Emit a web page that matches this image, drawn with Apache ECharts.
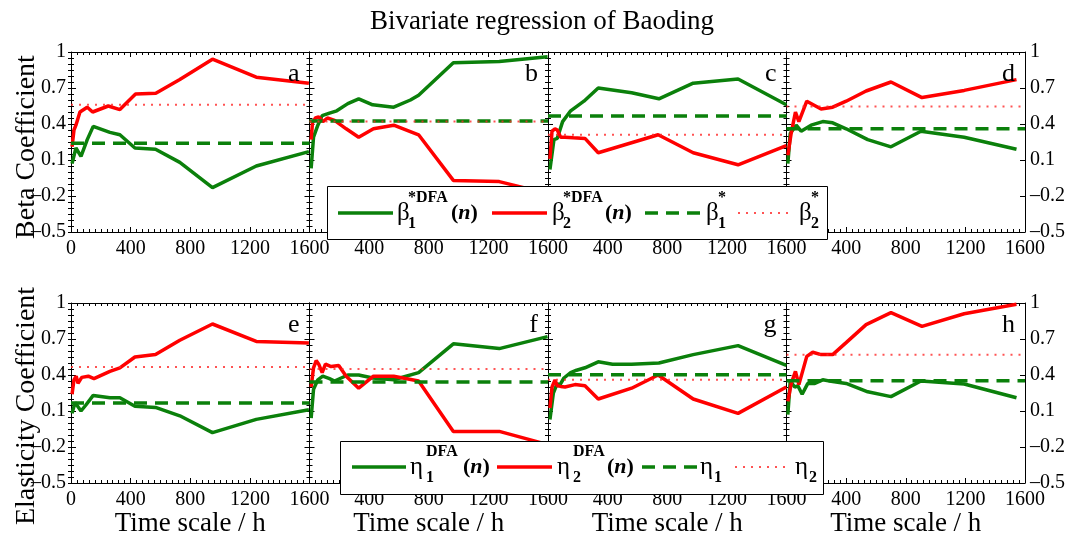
<!DOCTYPE html>
<html><head><meta charset="utf-8">
<script src="https://cdn.jsdelivr.net/npm/echarts@6/dist/echarts.min.js"></script>
<style>html,body{margin:0;padding:0;background:#fff}#c{width:1084px;height:540px}</style>
</head><body><div id="c"></div>
<script>
// ---------- data (time scale n in hours, coefficient values) ----------
const xTicks = [0, 400, 800, 1200, 1600];
const yTicks = [-0.5, -0.2, 0.1, 0.4, 0.7, 1];
const panelLetters = ['a','b','c','d','e','f','g','h'];

// a: beta*DFA
const aGx = [7, 33, 67, 109, 149, 261, 328, 429, 567, 730, 949, 1243, 1596];
const aGy = [0.07, 0.2, 0.13, 0.27, 0.38, 0.33, 0.31, 0.2, 0.19, 0.08, -0.13, 0.05, 0.17];
const aRx = [7, 20, 33, 60, 109, 145, 250, 328, 433, 569, 730, 949, 1243, 1596];
const aRy = [0.21, 0.35, 0.39, 0.5, 0.54, 0.5, 0.55, 0.52, 0.65, 0.656, 0.77, 0.94, 0.79, 0.74];
const aRef = [0.24, 0.56];
// b
const bGx = [11, 27, 56, 85, 134, 183, 257, 330, 424, 565, 677, 732, 965, 1273, 1597];
const bGy = [0.03, 0.29, 0.39, 0.47, 0.49, 0.51, 0.57, 0.61, 0.56, 0.54, 0.6, 0.64, 0.91, 0.92, 0.96];
const bRx = [11, 20, 40, 62, 90, 120, 168, 246, 330, 429, 565, 732, 965, 1273, 1600];
const bRy = [0.27, 0.41, 0.45, 0.46, 0.42, 0.45, 0.43, 0.36, 0.29, 0.36, 0.39, 0.31, -0.07, -0.08, -0.18];
const bRef = [0.425, 0.42];
// c
const cGx = [13, 40, 62, 80, 98, 152, 241, 337, 561, 744, 974, 1275, 1599];
const cGy = [0.02, 0.27, 0.28, 0.35, 0.42, 0.51, 0.59, 0.7, 0.66, 0.61, 0.74, 0.775, 0.56];
const cRx = [13, 27, 47, 62, 85, 114, 170, 248, 337, 739, 974, 1275, 1599];
const cRy = [0.11, 0.34, 0.36, 0.35, 0.29, 0.29, 0.285, 0.28, 0.16, 0.31, 0.16, 0.06, 0.22];
const cRef = [0.467, 0.31];
// d
const dGx = [9, 25, 65, 98, 165, 243, 310, 400, 545, 701, 902, 1192, 1543];
const dGy = [0.07, 0.32, 0.39, 0.34, 0.39, 0.42, 0.41, 0.36, 0.27, 0.21, 0.34, 0.29, 0.19];
const dRx = [9, 31, 60, 83, 136, 232, 310, 400, 534, 701, 909, 1192, 1543];
const dRy = [0.14, 0.32, 0.5, 0.42, 0.59, 0.525, 0.54, 0.59, 0.675, 0.75, 0.62, 0.68, 0.77];
const dRef = [0.36, 0.545];
// e: eta DFA
const eGx = [7, 27, 40, 67, 100, 149, 261, 328, 429, 567, 730, 949, 1243, 1596];
const eGy = [0.08, 0.17, 0.16, 0.1, 0.15, 0.23, 0.21, 0.21, 0.14, 0.13, 0.06, -0.08, 0.03, 0.11];
const eRx = [7, 20, 35, 47, 72, 116, 154, 261, 328, 429, 567, 730, 949, 1243, 1596];
const eRy = [0.24, 0.36, 0.39, 0.33, 0.38, 0.39, 0.37, 0.43, 0.46, 0.55, 0.57, 0.69, 0.825, 0.68, 0.667];
const eRef = [0.167, 0.467];
// f
const fGx = [11, 27, 56, 89, 134, 168, 257, 330, 424, 565, 732, 965, 1273, 1597];
const fGy = [0.04, 0.28, 0.36, 0.39, 0.37, 0.35, 0.4, 0.4, 0.375, 0.36, 0.42, 0.66, 0.62, 0.72];
const fRx = [11, 27, 45, 62, 85, 107, 145, 196, 246, 330, 429, 565, 732, 965, 1273, 1600];
const fRy = [0.3, 0.46, 0.52, 0.49, 0.42, 0.49, 0.47, 0.48, 0.39, 0.29, 0.39, 0.39, 0.35, -0.07, -0.07, -0.18];
const fRef = [0.342, 0.45];
// g
const gGx = [13, 36, 62, 76, 107, 152, 192, 248, 337, 433, 561, 744, 974, 1275, 1599];
const gGy = [0.03, 0.25, 0.33, 0.31, 0.375, 0.42, 0.44, 0.46, 0.51, 0.49, 0.49, 0.5, 0.57, 0.645, 0.48];
const gRx = [13, 27, 47, 62, 85, 114, 181, 248, 337, 561, 739, 974, 1275, 1599];
const gRy = [0.125, 0.3, 0.36, 0.31, 0.305, 0.3, 0.32, 0.31, 0.2, 0.29, 0.4, 0.2, 0.08, 0.3];
const gRef = [0.403, 0.361];
// h
const hGx = [9, 25, 55, 76, 105, 143, 190, 243, 310, 400, 545, 701, 902, 1192, 1543];
const hGy = [0.07, 0.35, 0.3, 0.31, 0.24, 0.33, 0.33, 0.36, 0.345, 0.33, 0.26, 0.22, 0.35, 0.325, 0.21];
const hRx = [9, 32, 60, 83, 136, 176, 232, 310, 400, 534, 701, 909, 1192, 1543];
const hRy = [0.18, 0.33, 0.43, 0.32, 0.555, 0.59, 0.57, 0.57, 0.67, 0.82, 0.92, 0.805, 0.91, 0.99];
const hRef = [0.353, 0.569];

const panels = [
  [aGx,aGy,aRx,aRy,aRef],[bGx,bGy,bRx,bRy,bRef],[cGx,cGy,cRx,cRy,cRef],[dGx,dGy,dRx,dRy,dRef],
  [eGx,eGy,eRx,eRy,eRef],[fGx,fGy,fRx,fRy,fRef],[gGx,gGy,gRx,gRy,gRef],[hGx,hGy,hRx,hRy,hRef]
];

// ---------- style ----------
const FONT = "'Liberation Serif', 'DejaVu Serif', serif";
const GREEN = '#0b800b', RED = '#ff0000', RED_DOT = 'rgba(255,40,40,0.8)';
const LEFT0 = 71, PW = 238.5, TOPS = [52, 303], PH = 180;
const XMIN = 0, XMAX = 1600, YMIN = -0.5, YMAX = 1;
const yMinor = []; for (let k = 0; k <= 30; k++) yMinor.push(+(YMIN + k * 0.05).toFixed(2));
const fmtY = v => { const s = String(+v.toFixed(2)); return s.replace('-', '\u2013'); };
const fmtX = v => String(Math.round(v));

const grid = [], xAxis = [], yAxis = [], series = [], graphic = [];
const pairs = (xs, ys) => xs.map((x, k) => [x, ys[k]]);

panels.forEach((p, i) => {
  const r = Math.floor(i / 4), c = i % 4;
  const left = LEFT0 + c * PW, top = TOPS[r];
  grid.push({ left: left, top: top, width: PW, height: PH, containLabel: false });
  const axLine = { show: true, onZero: false, lineStyle: { color: '#000', width: 1 } };
  const lbl = { fontSize: 20, color: '#000', fontFamily: FONT };
  xAxis.push({
    type: 'value', gridIndex: i, position: 'bottom', min: XMIN, max: XMAX, interval: 400,
    axisLine: axLine, splitLine: { show: false },
    axisTick: { show: true, inside: true, length: 5, lineStyle: { color: '#000' } },
    minorTick: { show: true, splitNumber: 10, length: 3, lineStyle: { color: '#000' } },
    axisLabel: Object.assign({ show: true, margin: 7, showMinLabel: c === 0, showMaxLabel: true, formatter: fmtX }, lbl),
    name: r === 1 ? 'Time scale / h' : '', nameLocation: 'middle', nameGap: 27,
    nameTextStyle: { fontSize: 27, color: '#000', fontFamily: FONT }
  });
  xAxis.push({
    type: 'value', gridIndex: i, position: 'top', min: XMIN, max: XMAX, interval: 400,
    axisLine: axLine, splitLine: { show: false }, axisLabel: { show: false },
    axisTick: { show: true, inside: true, length: 5, lineStyle: { color: '#000' } },
    minorTick: { show: true, splitNumber: 10, length: 3, lineStyle: { color: '#000' } }
  });
  ['left', 'right'].forEach(pos => {
    const showLbl = (pos === 'left' && c === 0) || (pos === 'right' && c === 3);
    yAxis.push({
      type: 'value', gridIndex: i, position: pos, min: YMIN, max: YMAX,
      axisLine: axLine, splitLine: { show: false },
      axisTick: { show: true, inside: true, length: 5, customValues: yTicks, lineStyle: { color: '#000' } },
      axisLabel: Object.assign({ show: showLbl, margin: 5, customValues: yTicks, formatter: fmtY }, lbl)
    });
    yAxis.push({
      type: 'value', gridIndex: i, position: pos, min: YMIN, max: YMAX,
      axisLine: { show: false }, splitLine: { show: false }, axisLabel: { show: false },
      axisTick: { show: true, inside: true, length: 3, customValues: yMinor, lineStyle: { color: '#000' } }
    });
  });
  const base = { type: 'line', xAxisIndex: i * 2, yAxisIndex: i * 4, symbol: 'none', showSymbol: false, silent: true, animation: false };
  series.push(Object.assign({}, base, { name: 'green' + i, data: pairs(p[0], p[1]), lineStyle: { color: GREEN, width: 3.5 }, itemStyle: { color: GREEN } }));
  series.push(Object.assign({}, base, { name: 'red' + i, data: pairs(p[2], p[3]), lineStyle: { color: RED, width: 3.5 }, itemStyle: { color: RED } }));
  series.push(Object.assign({}, base, { name: 'gref' + i, data: [[XMIN, p[4][0]], [XMAX, p[4][0]]], lineStyle: { color: GREEN, width: 3.5, type: [13, 8] }, itemStyle: { color: GREEN } }));
  series.push(Object.assign({}, base, { name: 'rref' + i, data: [[XMIN, p[4][1]], [XMAX, p[4][1]]], lineStyle: { color: RED_DOT, width: 2, type: [2, 6] }, itemStyle: { color: RED } }));
  // panel letter
  graphic.push({ type: 'text', x: left + PW - 10, y: top + 22, z: 50,
    style: { text: panelLetters[i], font: '26px ' + FONT, fill: '#000', align: 'right', verticalAlign: 'middle' } });
});

// y-axis names
graphic.push({ type: 'text', x: 27, y: 147, rotation: Math.PI / 2, z: 50,
  style: { text: 'Beta Coefficient', font: '28px ' + FONT, fill: '#000', align: 'center', verticalAlign: 'middle' } });
graphic.push({ type: 'text', x: 27, y: 406, rotation: Math.PI / 2, z: 50,
  style: { text: 'Elasticity Coefficient', font: '28px ' + FONT, fill: '#000', align: 'center', verticalAlign: 'middle' } });

// legends
function t(x, y, text, size, weight, style) {
  return { type: 'text', x: x, y: y, z: 101,
    style: { text: text, font: (style || '') + ' ' + (weight || '') + ' ' + size + 'px ' + FONT, fill: '#000', align: 'left', verticalAlign: 'middle' } };
}
function tail(x, y) {
  return { type: 'text', x: x, y: y, z: 101,
    style: { text: '{a|(}{b|n}{a|)}', align: 'left', verticalAlign: 'middle',
      rich: { a: { fontFamily: FONT, fontSize: 22, fontWeight: 'bold', fill: '#000' },
              b: { fontFamily: FONT, fontSize: 22, fontWeight: 'bold', fontStyle: 'italic', fill: '#000' } } } };
}
function ln(x1, x2, y, color, w, dash) {
  return { type: 'line', z: 101, shape: { x1: x1, y1: y, x2: x2, y2: y },
    style: { stroke: color, lineWidth: w, lineDash: dash || null } };
}
function legend(box, y, sym, items) {
  graphic.push({ type: 'rect', z: 100, shape: box, style: { fill: '#fff', stroke: '#000', lineWidth: 1 } });
  items.forEach(it => {
    graphic.push(ln(it.l[0], it.l[1], y, it.color, it.w, it.dash));
    graphic.push(t(it.s, y, sym, 25));
    graphic.push(t(it.ss, y + 11, it.sub, 16, 'bold'));
    if (it.sup) graphic.push(t(it.ss, y - 15, it.sup, 16, 'bold'));
    if (it.tail) graphic.push(tail(it.tail, y));
  });
}
legend({ x: 327.5, y: 186.5, width: 500, height: 53 }, 213, '\u03b2', [
  { l: [338, 393], color: GREEN, w: 3.5, s: 397, ss: 408, sub: '1', sup: '*DFA', tail: 451 },
  { l: [492, 547], color: RED, w: 3.5, s: 552, ss: 563, sub: '2', sup: '*DFA', tail: 605 },
  { l: [645, 700], color: GREEN, w: 3.5, dash: [13, 8], s: 706, ss: 718, sub: '1', sup: '*' },
  { l: [738, 790], color: RED_DOT, w: 2, dash: [2, 6], s: 799, ss: 811, sub: '2', sup: '*' }
]);
legend({ x: 340.5, y: 441.5, width: 483, height: 53 }, 467, '\u03b7', [
  { l: [352, 406], color: GREEN, w: 3.5, s: 410, ss: 426, sub: '1', sup: 'DFA', tail: 463 },
  { l: [497, 552], color: RED, w: 3.5, s: 557, ss: 573, sub: '2', sup: 'DFA', tail: 607 },
  { l: [642, 697], color: GREEN, w: 3.5, dash: [13, 8], s: 700, ss: 714, sub: '1' },
  { l: [735, 785], color: RED_DOT, w: 2, dash: [2, 6], s: 795, ss: 809, sub: '2' }
]);

const chart = echarts.init(document.getElementById('c'), null, { renderer: 'canvas' });
chart.setOption({
  animation: false,
  backgroundColor: '#fff',
  title: { text: 'Bivariate regression of Baoding', left: 'center', top: 3,
    textStyle: { fontSize: 27, fontWeight: 'normal', color: '#000', fontFamily: FONT } },
  grid: grid, xAxis: xAxis, yAxis: yAxis, series: series, graphic: graphic
});
</script>
</body></html>
